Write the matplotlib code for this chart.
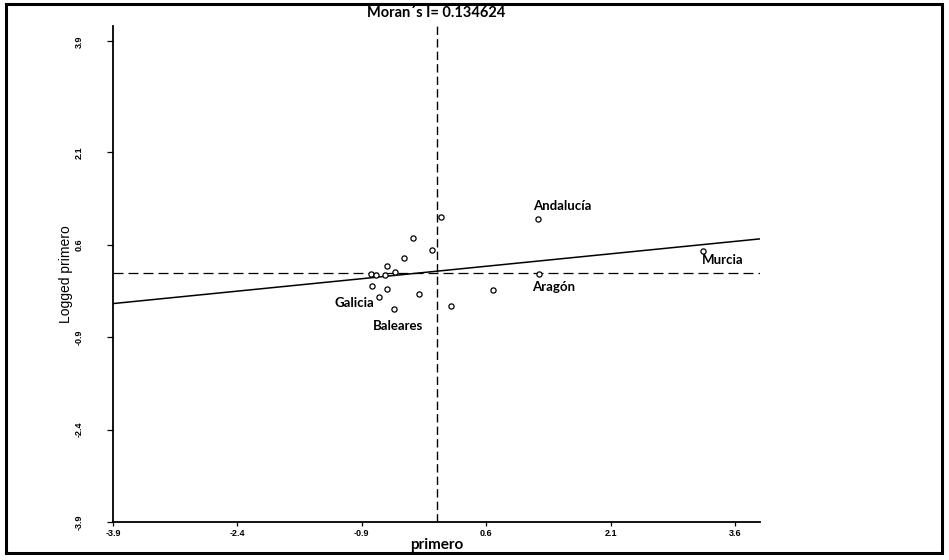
import matplotlib
matplotlib.use("Agg")
import matplotlib.pyplot as plt
from matplotlib.patches import Rectangle

# ---- data ----
x_vals = [0.057, -0.281, -0.052, -0.390, -0.595, -0.498, -0.788, -0.728, -0.619,
          -0.776, -0.595, -0.691, -0.209, -0.510, 0.177, 0.684, 1.227, 3.217, 1.239]
y_vals = [1.043, 0.703, 0.508, 0.379, 0.249, 0.152, 0.119, 0.103, 0.103,
          -0.075, -0.124, -0.253, -0.205, -0.448, -0.399, -0.140, 1.011, 0.492, 0.119]
point_names = ["", "", "", "", "", "", "", "", "",
               "", "", "Galicia", "", "Baleares", "", "", "Andalucía", "Murcia", "Aragón"]
label_offsets = {"Andalucía": (17, 10), "Murcia": (14, -6), "Aragón": (10, -9),
                 "Galicia": (-18, -4), "Baleares": (3, -12)}

morans_i = 0.134624
intercept = 0.17
x_mean = 0.0
y_mean = 0.135

x_ticks = [-3.9, -2.4, -0.9, 0.6, 2.1, 3.6]
y_ticks = [-3.9, -2.4, -0.9, 0.6, 2.1, 3.9]
x_limits = (-3.9, 3.9)
y_limits = (-3.9, 4.15)

title_text = "Moran´s I= 0.134624"
x_label = "primero"
y_label = "Logged primero"

# ---- figure ----
W, H = 949, 560
fig = plt.figure(figsize=(W / 100, H / 100), dpi=100)
fig.patch.set_facecolor("white")

# outer frame
fig.add_artist(Rectangle((6 / W, 1 - 553 / H), (942 - 6) / W, (553 - 4) / H,
                         transform=fig.transFigure, fill=False, lw=2.2,
                         edgecolor="black"))

ax = fig.add_axes([113 / W, 1 - 522 / H, (760 - 113) / W, (522 - 26) / H])
ax.set_xlim(*x_limits)
ax.set_ylim(*y_limits)
for s in ["top", "right"]:
    ax.spines[s].set_visible(False)
for s in ["left", "bottom"]:
    ax.spines[s].set_linewidth(1.3)

# reference lines
ax.axvline(x_mean, color="black", lw=1.0, ls=(0, (6, 3)))
ax.axhline(y_mean, color="black", lw=0.9, ls=(0, (8, 4)))

# regression line (slope = Moran's I)
xl = list(x_limits)
ax.plot(xl, [intercept + morans_i * v for v in xl], color="black", lw=1.1)

# points
ax.scatter(x_vals, y_vals, s=14, facecolors="white", edgecolors="black",
           linewidths=0.9, zorder=3)

for xv, yv, nm in zip(x_vals, y_vals, point_names):
    if nm:
        ax.annotate(nm, (xv, yv), xytext=label_offsets[nm], textcoords="offset points",
                    ha="center", va="center", fontsize=9.5, fontweight="bold",
                    family="Lato")

ax.set_xticks(x_ticks)
ax.set_xticklabels([f"{t:.1f}" for t in x_ticks], fontsize=6.5, fontweight="bold",
                   family="Liberation Sans")
ax.set_yticks(y_ticks)
ax.set_yticklabels([f"{t:.1f}" for t in y_ticks], fontsize=6.5, fontweight="bold",
                   family="Liberation Sans", rotation=90, va="center")
ax.tick_params(axis="x", length=3, width=0.9, pad=2)
ax.tick_params(axis="y", length=4, width=0.9, pad=17)

fig.text(436 / W, 1 - 13 / H, title_text, ha="center", va="center",
         fontsize=10.5, fontweight="bold", family="Lato")
ax.set_xlabel(x_label, fontsize=11, fontweight="bold", family="Lato", labelpad=0)
ax.set_ylabel(y_label, fontsize=10, family="Liberation Sans", labelpad=1)

fig.savefig("out.png", dpi=100, facecolor="white")
